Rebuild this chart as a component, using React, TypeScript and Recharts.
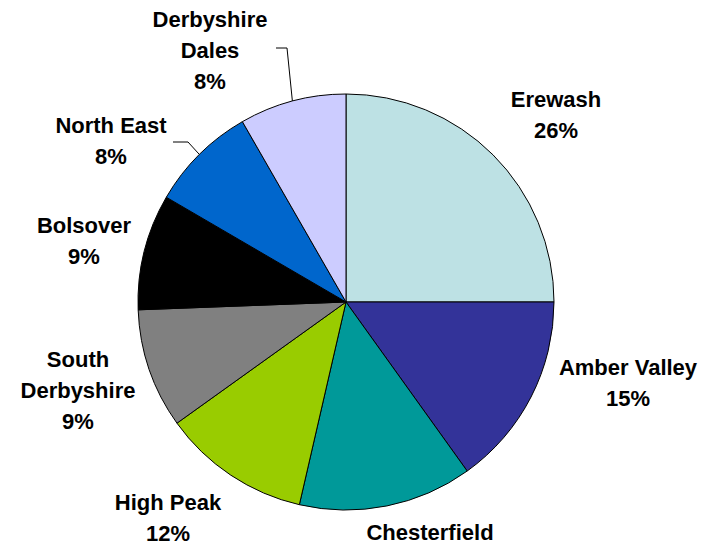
import { PieChart, Pie, Cell } from "recharts"

const districts = [
  "Erewash",
  "Amber Valley",
  "Chesterfield",
  "High Peak",
  "South Derbyshire",
  "Bolsover",
  "North East",
  "Derbyshire Dales",
]
// slice sizes
const shares = [25.0, 15.1, 13.5, 11.5, 9.3, 9.0, 8.3, 8.3]
// percentages as printed on the chart
const shareLabels = ["26%", "15%", "13%", "12%", "9%", "9%", "8%", "8%"]
const colors = ["#BDE1E4", "#333399", "#009999", "#99CC00", "#808080", "#000000", "#0066CC", "#CCCCFF"]

// names that Excel broke over two lines
const wrapped = ["South Derbyshire", "Derbyshire Dales"]

const data = districts.map((name, i) => ({ name, value: shares[i], pct: shareLabels[i] }))

// label placement relative to the pie centre: text centre x, first baseline y
const labelAt: Record<string, { dx: number; dy: number; leader?: [number, number, number, number] }> = {
  Erewash: { dx: 210, dy: -195 },
  "Amber Valley": { dx: 282, dy: 73 },
  Chesterfield: { dx: 84, dy: 238 },
  "High Peak": { dx: -178, dy: 208 },
  "South Derbyshire": { dx: -268, dy: 65 },
  Bolsover: { dx: -262, dy: -69 },
  "North East": { dx: -235, dy: -169, leader: [-158, -160, -173, -160] },
  "Derbyshire Dales": { dx: -136, dy: -275, leader: [-59, -254, -70, -254] },
}

const RAD = Math.PI / 180

function renderLabel(props: any) {
  const { cx, cy, midAngle, outerRadius, name, payload } = props
  const pos = labelAt[name]
  if (!pos) return null
  const lines = wrapped.includes(name) ? name.split(" ") : [name]
  lines.push(payload.pct)
  const x = cx + pos.dx
  const y = cy + pos.dy
  let leader = null
  if (pos.leader) {
    const sx = cx + outerRadius * Math.cos(-midAngle * RAD)
    const sy = cy + outerRadius * Math.sin(-midAngle * RAD)
    const [ex, ey, fx, fy] = pos.leader
    leader = (
      <polyline
        points={`${sx},${sy} ${cx + ex},${cy + ey} ${cx + fx},${cy + fy}`}
        fill="none"
        stroke="#000"
        strokeWidth={1}
      />
    )
  }
  return (
    <g>
      {leader}
      <text
        x={x}
        y={y}
        textAnchor="middle"
        fill="#000"
        style={{ fontFamily: "'Liberation Sans', Arial, sans-serif", fontWeight: 700, fontSize: 22 }}
      >
        {lines.map((l, i) => (
          <tspan key={i} x={x} y={y + i * 31}>
            {l}
          </tspan>
        ))}
      </text>
    </g>
  )
}

export default function App() {
  return (
    <div style={{ position: "absolute", left: 0, top: 0, width: 704, height: 546, background: "#fff", overflow: "hidden" }}>
      <PieChart width={704} height={546} margin={{ top: 0, right: 0, bottom: 0, left: 0 }}>
        <Pie
          data={data}
          dataKey="value"
          nameKey="name"
          cx={346}
          cy={302}
          outerRadius={208}
          startAngle={90}
          endAngle={-270}
          stroke="#000"
          strokeWidth={1}
          label={renderLabel}
          labelLine={false}
          isAnimationActive={false}
        >
          {data.map((d, i) => (
            <Cell key={d.name} fill={colors[i]} />
          ))}
        </Pie>
      </PieChart>
    </div>
  )
}
